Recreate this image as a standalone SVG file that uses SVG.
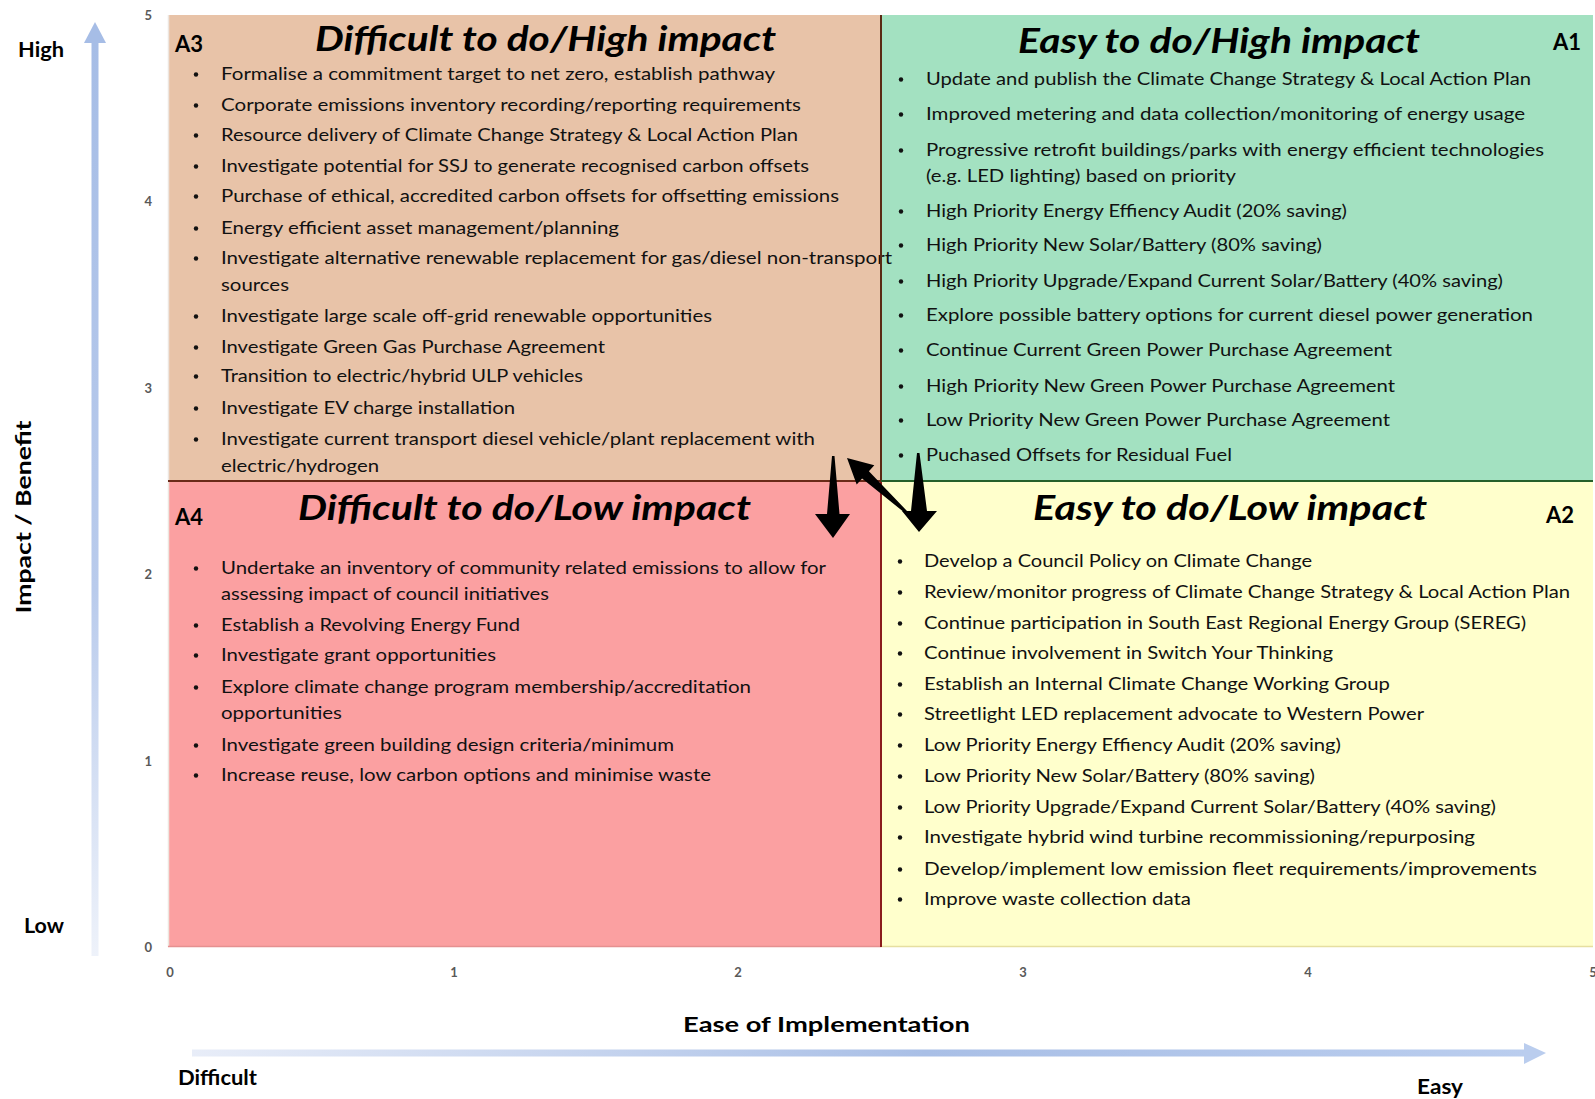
<svg xmlns="http://www.w3.org/2000/svg" width="1595" height="1099" viewBox="0 0 1595 1099">
  <defs>
    <linearGradient id="gradY" x1="0" y1="0" x2="0" y2="1">
      <stop offset="0" stop-color="#A6BDE6"/>
      <stop offset="0.6" stop-color="#B9CBEC"/>
      <stop offset="1" stop-color="#EEF2FA"/>
    </linearGradient>
    <linearGradient id="gradX" x1="0" y1="0" x2="1" y2="0">
      <stop offset="0" stop-color="#E8EDF8"/>
      <stop offset="0.55" stop-color="#A9BFE6"/>
      <stop offset="1" stop-color="#BACDEE"/>
    </linearGradient>
  </defs>
  <style>
    text { font-family: Lato, "Open Sans", "Liberation Sans", sans-serif; fill: #111; }
    .title { font-size: 34px; font-weight: 700; font-style: italic; fill: #000; }
    .tag { font-size: 22px; font-weight: 700; fill: #000; }
    .item { font-size: 17px; }
    .tick { font-size: 13px; font-weight: 700; fill: #595959; }
    .axis { font-size: 21px; font-weight: 700; fill: #000; }
    .dot { fill: #111; }
    .arrow { fill: #000; }
  </style>

  <rect x="0" y="0" width="1595" height="1099" fill="#FFFFFF"/>

  <!-- Quadrant A1: easy / high impact -->
  <g id="quadrant-a1">
    <rect x="881" y="15" width="712" height="466" fill="#A3E1C1"/>
    <text class="tag" x="1553" y="50">A1</text>
    <text class="title" x="1018" y="53" textLength="402" lengthAdjust="spacingAndGlyphs">Easy to do/High impact</text>
    <g class="dot">
      <circle cx="901" cy="79.5" r="2.2"/>
      <circle cx="901" cy="114.5" r="2.2"/>
      <circle cx="901" cy="150.5" r="2.2"/>
      <circle cx="901" cy="211.5" r="2.2"/>
      <circle cx="901" cy="245.5" r="2.2"/>
      <circle cx="901" cy="281.5" r="2.2"/>
      <circle cx="901" cy="315.5" r="2.2"/>
      <circle cx="901" cy="350.5" r="2.2"/>
      <circle cx="901" cy="386.5" r="2.2"/>
      <circle cx="901" cy="420.5" r="2.2"/>
      <circle cx="901" cy="455.5" r="2.2"/>
    </g>
    <text class="item" x="926" y="85" textLength="605" lengthAdjust="spacingAndGlyphs">Update and publish the Climate Change Strategy &amp; Local Action Plan</text>
    <text class="item" x="926" y="120" textLength="599" lengthAdjust="spacingAndGlyphs">Improved metering and data collection/monitoring of energy usage</text>
    <text class="item" x="926" y="156" textLength="618" lengthAdjust="spacingAndGlyphs">Progressive retrofit buildings/parks with energy efficient technologies</text>
    <text class="item" x="926" y="182" textLength="310" lengthAdjust="spacingAndGlyphs">(e.g. LED lighting) based on priority</text>
    <text class="item" x="926" y="217" textLength="421" lengthAdjust="spacingAndGlyphs">High Priority Energy Effiency Audit (20% saving)</text>
    <text class="item" x="926" y="251" textLength="396" lengthAdjust="spacingAndGlyphs">High Priority New Solar/Battery (80% saving)</text>
    <text class="item" x="926" y="287" textLength="577" lengthAdjust="spacingAndGlyphs">High Priority Upgrade/Expand Current Solar/Battery (40% saving)</text>
    <text class="item" x="926" y="321" textLength="607" lengthAdjust="spacingAndGlyphs">Explore possible battery options for current diesel power generation</text>
    <text class="item" x="926" y="356" textLength="466" lengthAdjust="spacingAndGlyphs">Continue Current Green Power Purchase Agreement</text>
    <text class="item" x="926" y="392" textLength="469" lengthAdjust="spacingAndGlyphs">High Priority New Green Power Purchase Agreement</text>
    <text class="item" x="926" y="426" textLength="464" lengthAdjust="spacingAndGlyphs">Low Priority New Green Power Purchase Agreement</text>
    <text class="item" x="926" y="461" textLength="306" lengthAdjust="spacingAndGlyphs">Puchased Offsets for Residual Fuel</text>
  </g>

  <!-- Quadrant A3: difficult / high impact (drawn after A1 so the long line can run over the divider) -->
  <g id="quadrant-a3">
    <rect x="168" y="15" width="713" height="466" fill="#E8C3A8"/>
    <text class="tag" x="175" y="52">A3</text>
    <text class="title" x="315" y="51" textLength="461" lengthAdjust="spacingAndGlyphs">Difficult to do/High impact</text>
    <g class="dot">
      <circle cx="196" cy="74.5" r="2.2"/>
      <circle cx="196" cy="105.5" r="2.2"/>
      <circle cx="196" cy="135.5" r="2.2"/>
      <circle cx="196" cy="166.5" r="2.2"/>
      <circle cx="196" cy="196.5" r="2.2"/>
      <circle cx="196" cy="228.5" r="2.2"/>
      <circle cx="196" cy="258.5" r="2.2"/>
      <circle cx="196" cy="316.5" r="2.2"/>
      <circle cx="196" cy="347.5" r="2.2"/>
      <circle cx="196" cy="376.5" r="2.2"/>
      <circle cx="196" cy="408.5" r="2.2"/>
      <circle cx="196" cy="439.5" r="2.2"/>
    </g>
    <text class="item" x="221" y="80" textLength="554" lengthAdjust="spacingAndGlyphs">Formalise a commitment target to net zero, establish pathway</text>
    <text class="item" x="221" y="111" textLength="580" lengthAdjust="spacingAndGlyphs">Corporate emissions inventory recording/reporting requirements</text>
    <text class="item" x="221" y="141" textLength="577" lengthAdjust="spacingAndGlyphs">Resource delivery of Climate Change Strategy &amp; Local Action Plan</text>
    <text class="item" x="221" y="172" textLength="588" lengthAdjust="spacingAndGlyphs">Investigate potential for SSJ to generate recognised carbon offsets</text>
    <text class="item" x="221" y="202" textLength="618" lengthAdjust="spacingAndGlyphs">Purchase of ethical, accredited carbon offsets for offsetting emissions</text>
    <text class="item" x="221" y="234" textLength="398" lengthAdjust="spacingAndGlyphs">Energy efficient asset management/planning</text>
    <text class="item" x="221" y="264" textLength="671" lengthAdjust="spacingAndGlyphs">Investigate alternative renewable replacement for gas/diesel non-transport</text>
    <text class="item" x="221" y="291" textLength="68" lengthAdjust="spacingAndGlyphs">sources</text>
    <text class="item" x="221" y="322" textLength="491" lengthAdjust="spacingAndGlyphs">Investigate large scale off-grid renewable opportunities</text>
    <text class="item" x="221" y="353" textLength="384" lengthAdjust="spacingAndGlyphs">Investigate Green Gas Purchase Agreement</text>
    <text class="item" x="221" y="382" textLength="362" lengthAdjust="spacingAndGlyphs">Transition to electric/hybrid ULP vehicles</text>
    <text class="item" x="221" y="414" textLength="294" lengthAdjust="spacingAndGlyphs">Investigate EV charge installation</text>
    <text class="item" x="221" y="445" textLength="594" lengthAdjust="spacingAndGlyphs">Investigate current transport diesel vehicle/plant replacement with</text>
    <text class="item" x="221" y="472" textLength="158" lengthAdjust="spacingAndGlyphs">electric/hydrogen</text>
  </g>

  <!-- Quadrant A4: difficult / low impact -->
  <g id="quadrant-a4">
    <rect x="168" y="481" width="713" height="466" fill="#FBA0A1"/>
    <text class="tag" x="175" y="525">A4</text>
    <text class="title" x="298" y="520" textLength="453" lengthAdjust="spacingAndGlyphs">Difficult to do/Low impact</text>
    <g class="dot">
      <circle cx="196" cy="568.5" r="2.2"/>
      <circle cx="196" cy="625.5" r="2.2"/>
      <circle cx="196" cy="655.5" r="2.2"/>
      <circle cx="196" cy="687.5" r="2.2"/>
      <circle cx="196" cy="745.5" r="2.2"/>
      <circle cx="196" cy="775.5" r="2.2"/>
    </g>
    <text class="item" x="221" y="574" textLength="605" lengthAdjust="spacingAndGlyphs">Undertake an inventory of community related emissions to allow for</text>
    <text class="item" x="221" y="600" textLength="328" lengthAdjust="spacingAndGlyphs">assessing impact of council initiatives</text>
    <text class="item" x="221" y="631" textLength="299" lengthAdjust="spacingAndGlyphs">Establish a Revolving Energy Fund</text>
    <text class="item" x="221" y="661" textLength="275" lengthAdjust="spacingAndGlyphs">Investigate grant opportunities</text>
    <text class="item" x="221" y="693" textLength="530" lengthAdjust="spacingAndGlyphs">Explore climate change program membership/accreditation</text>
    <text class="item" x="221" y="719" textLength="121" lengthAdjust="spacingAndGlyphs">opportunities</text>
    <text class="item" x="221" y="751" textLength="453" lengthAdjust="spacingAndGlyphs">Investigate green building design criteria/minimum</text>
    <text class="item" x="221" y="781" textLength="490" lengthAdjust="spacingAndGlyphs">Increase reuse, low carbon options and minimise waste</text>
  </g>

  <!-- Quadrant A2: easy / low impact -->
  <g id="quadrant-a2">
    <rect x="881" y="481" width="712" height="466" fill="#FFFFCC"/>
    <text class="tag" x="1546" y="523">A2</text>
    <text class="title" x="1033" y="520" textLength="394" lengthAdjust="spacingAndGlyphs">Easy to do/Low impact</text>
    <g class="dot">
      <circle cx="900" cy="561.5" r="2.2"/>
      <circle cx="900" cy="592.5" r="2.2"/>
      <circle cx="900" cy="623.5" r="2.2"/>
      <circle cx="900" cy="653.5" r="2.2"/>
      <circle cx="900" cy="684.5" r="2.2"/>
      <circle cx="900" cy="714.5" r="2.2"/>
      <circle cx="900" cy="745.5" r="2.2"/>
      <circle cx="900" cy="776.5" r="2.2"/>
      <circle cx="900" cy="807.5" r="2.2"/>
      <circle cx="900" cy="837.5" r="2.2"/>
      <circle cx="900" cy="869.5" r="2.2"/>
      <circle cx="900" cy="899.5" r="2.2"/>
    </g>
    <text class="item" x="924" y="567" textLength="388" lengthAdjust="spacingAndGlyphs">Develop a Council Policy on Climate Change</text>
    <text class="item" x="924" y="598" textLength="646" lengthAdjust="spacingAndGlyphs">Review/monitor progress of Climate Change Strategy &amp; Local Action Plan</text>
    <text class="item" x="924" y="629" textLength="602" lengthAdjust="spacingAndGlyphs">Continue participation in South East Regional Energy Group (SEREG)</text>
    <text class="item" x="924" y="659" textLength="409" lengthAdjust="spacingAndGlyphs">Continue involvement in Switch Your Thinking</text>
    <text class="item" x="924" y="690" textLength="466" lengthAdjust="spacingAndGlyphs">Establish an Internal Climate Change Working Group</text>
    <text class="item" x="924" y="720" textLength="500" lengthAdjust="spacingAndGlyphs">Streetlight LED replacement advocate to Western Power</text>
    <text class="item" x="924" y="751" textLength="417" lengthAdjust="spacingAndGlyphs">Low Priority Energy Effiency Audit (20% saving)</text>
    <text class="item" x="924" y="782" textLength="391" lengthAdjust="spacingAndGlyphs">Low Priority New Solar/Battery (80% saving)</text>
    <text class="item" x="924" y="813" textLength="572" lengthAdjust="spacingAndGlyphs">Low Priority Upgrade/Expand Current Solar/Battery (40% saving)</text>
    <text class="item" x="924" y="843" textLength="551" lengthAdjust="spacingAndGlyphs">Investigate hybrid wind turbine recommissioning/repurposing</text>
    <text class="item" x="924" y="875" textLength="613" lengthAdjust="spacingAndGlyphs">Develop/implement low emission fleet requirements/improvements</text>
    <text class="item" x="924" y="905" textLength="267" lengthAdjust="spacingAndGlyphs">Improve waste collection data</text>
  </g>

  <!-- Quadrant dividers and plot edges -->
  <g id="dividers" fill="none">
    <line x1="168.5" y1="15" x2="168.5" y2="947" stroke="#EDE6E0" stroke-width="1.5"/>
    <line x1="168" y1="946.5" x2="881" y2="946.5" stroke="#E59090" stroke-width="1.5"/>
    <line x1="881" y1="946.5" x2="1593" y2="946.5" stroke="#E6DFA0" stroke-width="1.5"/>
    <line x1="881" y1="15" x2="881" y2="481" stroke="#5A2A14" stroke-width="2"/>
    <line x1="881" y1="481" x2="881" y2="947" stroke="#8A1C1C" stroke-width="2"/>
    <line x1="168" y1="481" x2="881" y2="481" stroke="#6A2A18" stroke-width="2"/>
    <line x1="881" y1="481" x2="1593" y2="481" stroke="#25602A" stroke-width="2"/>
  </g>

  <!-- Block arrows between quadrants -->
  <g id="connectors" class="arrow">
    <path d="M832,456 L834.5,456 L839.5,514 L850,514 L833,538 L815,514 L827,514 Z"/>
    <path d="M917,453 L919.5,453 L927,511 L937,511 L919,532 L902,511 L911,511 Z"/>
    <path d="M905,513 L907,511 L868.9,471.2 L874.3,465.3 L847,458 L856.7,484.5 L862.1,478.6 Z"/>
  </g>

  <!-- Axes -->
  <g id="axis-y">
    <rect x="91.5" y="42" width="7" height="914" fill="url(#gradY)"/>
    <polygon points="95,22 106,43 84,43" fill="#A6BDE6"/>
    <text class="axis" x="18" y="57" textLength="46" lengthAdjust="spacingAndGlyphs">High</text>
    <text class="axis" x="24" y="933" textLength="40" lengthAdjust="spacingAndGlyphs">Low</text>
    <text class="axis" transform="translate(31,517) rotate(-90)" text-anchor="middle" font-size="23" textLength="193" lengthAdjust="spacingAndGlyphs">Impact / Benefit</text>
    <g text-anchor="end">
      <text class="tick" x="152" y="20">5</text>
      <text class="tick" x="152" y="206">4</text>
      <text class="tick" x="152" y="393">3</text>
      <text class="tick" x="152" y="579">2</text>
      <text class="tick" x="152" y="766">1</text>
      <text class="tick" x="152" y="952">0</text>
    </g>
  </g>

  <g id="axis-x">
    <rect x="192" y="1049.5" width="1333" height="7" fill="url(#gradX)"/>
    <polygon points="1546,1053 1524,1043 1524,1064" fill="#BACDEE"/>
    <text class="axis" x="683" y="1032" font-size="24" textLength="287" lengthAdjust="spacingAndGlyphs">Ease of Implementation</text>
    <text class="axis" x="178" y="1085" textLength="79" lengthAdjust="spacingAndGlyphs">Difficult</text>
    <text class="axis" x="1417" y="1094" textLength="46" lengthAdjust="spacingAndGlyphs">Easy</text>
    <g text-anchor="middle">
      <text class="tick" x="170" y="977">0</text>
      <text class="tick" x="454" y="977">1</text>
      <text class="tick" x="738" y="977">2</text>
      <text class="tick" x="1023" y="977">3</text>
      <text class="tick" x="1308" y="977">4</text>
      <text class="tick" x="1593" y="977">5</text>
    </g>
  </g>
</svg>
